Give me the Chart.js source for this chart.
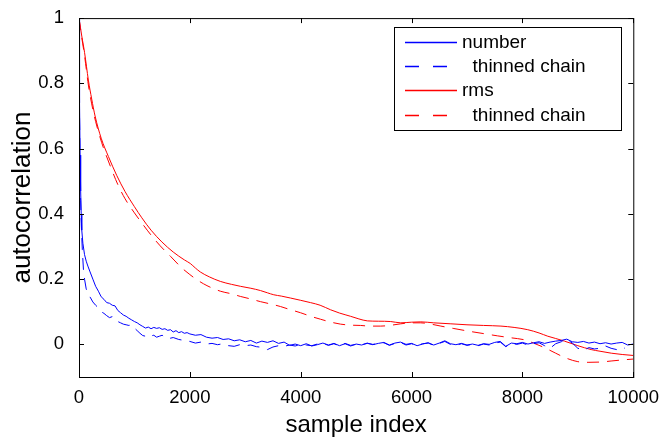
<!DOCTYPE html>
<html>
<head>
<meta charset="utf-8">
<title>autocorrelation</title>
<script src="https://cdn.jsdelivr.net/npm/chart.js@4"></script>
<style>
  html, body { margin: 0; padding: 0; background: #fff; }
  #wrap { width: 661px; height: 440px; }
</style>
</head>
<body>
<div id="wrap"><canvas id="acChart" width="661" height="440"></canvas></div>
<script>
// tick positions
const xTicks = [0, 2000, 4000, 6000, 8000, 10000];
const yTicks = [0, 0.2, 0.4, 0.6, 0.8, 1];

const legendLabels = ['number', '  thinned chain', 'rms', '  thinned chain'];

// "number" - full chain
const numberX = [0, 10, 20, 30, 40, 50, 70, 100, 130, 160, 200, 250, 300, 350, 400, 450, 500, 550, 600, 650,
  700, 750, 800, 850, 900, 950, 1000, 1050, 1100, 1150, 1200, 1250, 1300, 1350, 1400, 1450, 1500, 1550, 1600, 1650,
  1700, 1750, 1800, 1850, 1900, 1950, 2000, 2100, 2200, 2300, 2400, 2500, 2600, 2700, 2800, 2900,
  3000, 3100, 3200, 3300, 3400, 3500, 3600, 3700, 3800, 3900, 4000, 4100, 4200, 4300, 4400, 4500, 4600, 4700, 4800, 4900,
  5000, 5100, 5200, 5300, 5400, 5500, 5600, 5700, 5800, 5900, 6000, 6100, 6200, 6300, 6400, 6500, 6600, 6700, 6800, 6900,
  7000, 7100, 7200, 7300, 7400, 7500, 7600, 7700, 7800, 7900, 8000, 8100, 8200, 8300, 8400, 8500, 8600, 8700, 8800, 8900,
  9000, 9100, 9200, 9300, 9400, 9500, 9600, 9700, 9800, 9900, 10000];
const numberY = [1.0, 0.74, 0.58, 0.47, 0.40, 0.35, 0.31, 0.275, 0.255, 0.24, 0.222, 0.2, 0.178, 0.163, 0.146, 0.138, 0.128, 0.126, 0.12, 0.118,
  0.104, 0.097, 0.09, 0.086, 0.08, 0.075, 0.07, 0.066, 0.06, 0.055, 0.05, 0.053, 0.048, 0.052, 0.049, 0.051, 0.046, 0.048, 0.043, 0.045,
  0.038, 0.042, 0.036, 0.039, 0.034, 0.036, 0.032, 0.028, 0.030, 0.022, 0.019, 0.021, 0.015, 0.017, 0.011, 0.014,
  0.008, 0.012, 0.004, 0.010, 0.006, 0.011, 0.003, 0.007, -0.003, 0.001, -0.004, 0.002, -0.005, -0.001, 0.004, -0.002, 0.003, -0.004, 0.002, -0.005,
  0.001, -0.002, 0.004, -0.001, 0.003, 0.006, -0.002, 0.004, 0.007, 0.000, 0.003, -0.004, 0.001, 0.005, -0.002, 0.004, 0.011, 0.002, -0.001, 0.003,
  -0.002, 0.001, -0.003, 0.002, 0.000, 0.006, 0.009, -0.006, 0.004, 0.002, 0.006, 0.001, 0.005, 0.008, 0.003, 0.007, 0.010, 0.012, 0.016, 0.008,
  0.006, 0.009, 0.004, 0.007, 0.002, 0.005, 0.001, 0.004, 0.006, -0.002, 0.001];

// "number" - thinned chain
const numberThinX = [0, 10, 20, 30, 40, 50, 60, 80, 100, 130, 160, 200, 250, 300, 350, 400, 450, 500, 550, 600,
  650, 700, 750, 800, 850, 900, 950, 1000, 1050, 1100, 1150, 1200, 1250, 1300, 1350, 1400, 1450, 1500, 1550, 1600,
  1650, 1700, 1800, 1900, 2000, 2100, 2200, 2300, 2400, 2500, 2600, 2700, 2800, 2900,
  3000, 3100, 3200, 3300, 3400, 3500, 3600, 3700, 3800, 3900, 4000, 4100, 4200, 4300, 4400, 4500, 4600, 4700, 4800, 4900,
  5000, 5100, 5200, 5300, 5400, 5500, 5600, 5700, 5800, 5900, 6000, 6100, 6200, 6300, 6400, 6500, 6600, 6700, 6800, 6900,
  7000, 7100, 7200, 7300, 7400, 7500, 7600, 7700, 7800, 7900, 8000, 8100, 8200, 8300, 8400, 8500, 8600, 8700, 8800, 8900,
  9000, 9100, 9200, 9300, 9400, 9500, 9600, 9700, 9800, 9850];
const numberThinY = [1.0, 0.7, 0.54, 0.44, 0.37, 0.33, 0.29, 0.23, 0.2, 0.17, 0.155, 0.145, 0.13, 0.12, 0.112, 0.1, 0.095, 0.088, 0.082, 0.085,
  0.074, 0.07, 0.066, 0.062, 0.06, 0.058, 0.06, 0.05, 0.042, 0.034, 0.027, 0.025, 0.03, 0.026, 0.028, 0.022, 0.025, 0.028, 0.022, 0.025,
  0.019, 0.021, 0.015, 0.012, 0.009, 0.004, 0.007, 0.001, 0.003, -0.001, 0.002, -0.004, -0.006, -0.001,
  -0.004, -0.002, -0.007, -0.009, -0.016, -0.008, -0.004, -0.006, -0.002, -0.005, 0.000, -0.002, -0.004, 0.001, 0.003, -0.003, 0.002, -0.005, 0.003, -0.003,
  0.000, -0.001, 0.003, 0.000, 0.002, 0.005, -0.003, 0.003, 0.006, -0.002, 0.002, -0.003, 0.002, 0.004, -0.003, 0.003, 0.009, 0.000, -0.003, 0.002,
  -0.003, 0.000, -0.004, 0.001, -0.002, 0.004, 0.007, -0.007, 0.003, 0.000, 0.004, -0.002, 0.002, 0.005, -0.004, -0.012, 0.002, 0.008, 0.015, 0.004,
  -0.012, -0.018, -0.010, -0.014, -0.012, -0.005, -0.012, -0.016, -0.009, -0.012];

// "rms" - full chain
const rmsX = [0, 50, 100, 169, 229, 290, 400, 530, 680, 832, 1000, 1133, 1300, 1495, 1700, 1900, 2007, 2100, 2188, 2350,
  2550, 2750, 2911, 3100, 3273, 3400, 3514, 3650, 3816, 4000, 4177, 4350, 4539, 4700, 4901, 5050, 5202, 5400, 5624, 5805,
  6000, 6166, 6400, 6709, 7000, 7300, 7613, 7850, 8096, 8300, 8457, 8600, 8758, 9000, 9241, 9400, 9603, 9800, 10000];
const rmsY = [1.0, 0.945, 0.895, 0.81, 0.752, 0.70, 0.632, 0.576, 0.518, 0.468, 0.422, 0.388, 0.35, 0.314, 0.283, 0.259, 0.248, 0.234, 0.222, 0.207,
  0.193, 0.184, 0.178, 0.172, 0.165, 0.158, 0.152, 0.148, 0.142, 0.135, 0.128, 0.12, 0.106, 0.096, 0.086, 0.078, 0.072, 0.071, 0.07, 0.066,
  0.068, 0.069, 0.066, 0.063, 0.06, 0.058, 0.056, 0.052, 0.045, 0.035, 0.025, 0.018, 0.01, -0.004, -0.016, -0.021, -0.027, -0.031, -0.034];

// "rms" - thinned chain
const rmsThinX = [0, 50, 100, 169, 229, 300, 410, 591, 700, 832, 1000, 1133, 1300, 1465, 1650, 1857, 2000, 2128, 2309, 2550,
  2750, 2911, 3100, 3273, 3450, 3635, 3800, 3996, 4200, 4358, 4550, 4720, 4900, 5081, 5250, 5443, 5600, 5805, 6000, 6166,
  6350, 6528, 6750, 7011, 7300, 7553, 7800, 8035, 8200, 8396, 8600, 8758, 9000, 9200, 9421, 9600, 9783, 10000];
const rmsThinY = [1.0, 0.94, 0.885, 0.795, 0.737, 0.683, 0.618, 0.535, 0.49, 0.446, 0.403, 0.372, 0.335, 0.302, 0.27, 0.234, 0.214, 0.198, 0.18, 0.163,
  0.155, 0.147, 0.139, 0.131, 0.124, 0.116, 0.107, 0.097, 0.085, 0.077, 0.068, 0.062, 0.059, 0.058, 0.056, 0.056, 0.058, 0.063, 0.066, 0.066,
  0.062, 0.056, 0.049, 0.041, 0.033, 0.026, 0.02, 0.014, 0.004, -0.01, -0.027, -0.04, -0.053, -0.055, -0.054, -0.051, -0.048, -0.045];

function pairs(xs, ys) {
  return xs.map((x, i) => ({ x: x, y: ys[i] }));
}

const BLUE = '#0000ff';
const RED = '#ff0000';
const plotDash = [12, 8];
const legendDash = [14, 14];

// box around the axes and inward ticks, like matlab
const framePlugin = {
  id: 'frame',
  afterDatasetsDraw(chart) {
    const { ctx, chartArea: a, scales } = chart;
    const x = scales.x, y = scales.y;
    const tl = 5;
    ctx.save();
    ctx.strokeStyle = '#000';
    ctx.lineWidth = 1;
    ctx.setLineDash([]);
    ctx.strokeRect(a.left + 0.5, a.top + 0.5, a.right - a.left, a.bottom - a.top);
    ctx.beginPath();
    x.ticks.forEach(t => {
      const px = Math.round(x.getPixelForValue(t.value)) + 0.5;
      ctx.moveTo(px, a.bottom); ctx.lineTo(px, a.bottom - tl);
      ctx.moveTo(px, a.top); ctx.lineTo(px, a.top + tl);
    });
    y.ticks.forEach(t => {
      const py = Math.round(y.getPixelForValue(t.value)) + 0.5;
      ctx.moveTo(a.left, py); ctx.lineTo(a.left + tl, py);
      ctx.moveTo(a.right, py); ctx.lineTo(a.right - tl, py);
    });
    ctx.stroke();
    ctx.restore();
  }
};

// boxed legend in the top right corner
const boxLegend = {
  id: 'boxLegend',
  afterDraw(chart) {
    const ctx = chart.ctx;
    const box = { left: 394, top: 27, width: 227, height: 103 };
    const rowTop = 41.7, rowGap = 24.3;
    ctx.save();
    ctx.fillStyle = '#fff';
    ctx.fillRect(box.left, box.top, box.width, box.height);
    ctx.strokeStyle = '#000';
    ctx.lineWidth = 1;
    ctx.strokeRect(box.left + 0.5, box.top + 0.5, box.width, box.height);
    chart.data.datasets.forEach((ds, i) => {
      const yy = Math.round(rowTop + i * rowGap) + 0.5;
      ctx.beginPath();
      ctx.strokeStyle = ds.borderColor;
      ctx.lineWidth = 1.3;
      ctx.setLineDash(ds.borderDash && ds.borderDash.length ? legendDash : []);
      ctx.moveTo(405, yy);
      ctx.lineTo(457, yy);
      ctx.stroke();
      ctx.setLineDash([]);
      ctx.fillStyle = '#000';
      ctx.font = '19px "Liberation Sans", Arial, sans-serif';
      ctx.textBaseline = 'middle';
      ctx.textAlign = 'left';
      ctx.fillText(ds.label, 462, yy);
    });
    ctx.restore();
  }
};

const tickFont = { family: '"Liberation Sans", Arial, sans-serif', size: 18.5 };

new Chart(document.getElementById('acChart'), {
  type: 'line',
  data: {
    datasets: [
      { label: legendLabels[0], data: pairs(numberX, numberY), borderColor: BLUE, borderWidth: 1, pointRadius: 0, tension: 0 },
      { label: legendLabels[1], data: pairs(numberThinX, numberThinY), borderColor: BLUE, borderWidth: 1, borderDash: plotDash, pointRadius: 0, tension: 0 },
      { label: legendLabels[2], data: pairs(rmsX, rmsY), borderColor: RED, borderWidth: 1, pointRadius: 0, cubicInterpolationMode: 'monotone' },
      { label: legendLabels[3], data: pairs(rmsThinX, rmsThinY), borderColor: RED, borderWidth: 1, borderDash: plotDash, pointRadius: 0, cubicInterpolationMode: 'monotone' }
    ]
  },
  options: {
    responsive: false,
    animation: false,
    devicePixelRatio: 1,
    layout: { padding: { top: 15, right: 22, left: 0, bottom: 0 } },
    plugins: {
      legend: { display: false },
      tooltip: { enabled: false }
    },
    scales: {
      x: {
        type: 'linear',
        min: 0,
        max: 10000,
        afterBuildTicks: s => { s.ticks = xTicks.map(v => ({ value: v })); },
        afterFit: s => { s.height = 63; },
        grid: { display: false },
        border: { display: false },
        ticks: {
          callback: v => String(v),
          font: tickFont,
          color: '#000',
          padding: 2,
          maxRotation: 0,
          autoSkip: false
        },
        title: {
          display: true,
          text: 'sample index',
          color: '#000',
          font: { family: '"Liberation Sans", Arial, sans-serif', size: 24 },
          padding: { top: 0, bottom: 0 }
        }
      },
      y: {
        type: 'linear',
        min: -0.1,
        max: 1,
        afterBuildTicks: s => { s.ticks = yTicks.map(v => ({ value: v })); },
        afterFit: s => { s.width = 79; },
        grid: { display: false },
        border: { display: false },
        ticks: {
          callback: v => String(v),
          font: tickFont,
          color: '#000',
          padding: 7
        },
        title: {
          display: true,
          text: 'autocorrelation',
          color: '#000',
          font: { family: '"Liberation Sans", Arial, sans-serif', size: 26 },
          padding: { top: 7, bottom: 0 }
        }
      }
    }
  },
  plugins: [framePlugin, boxLegend]
});
</script>
</body>
</html>
